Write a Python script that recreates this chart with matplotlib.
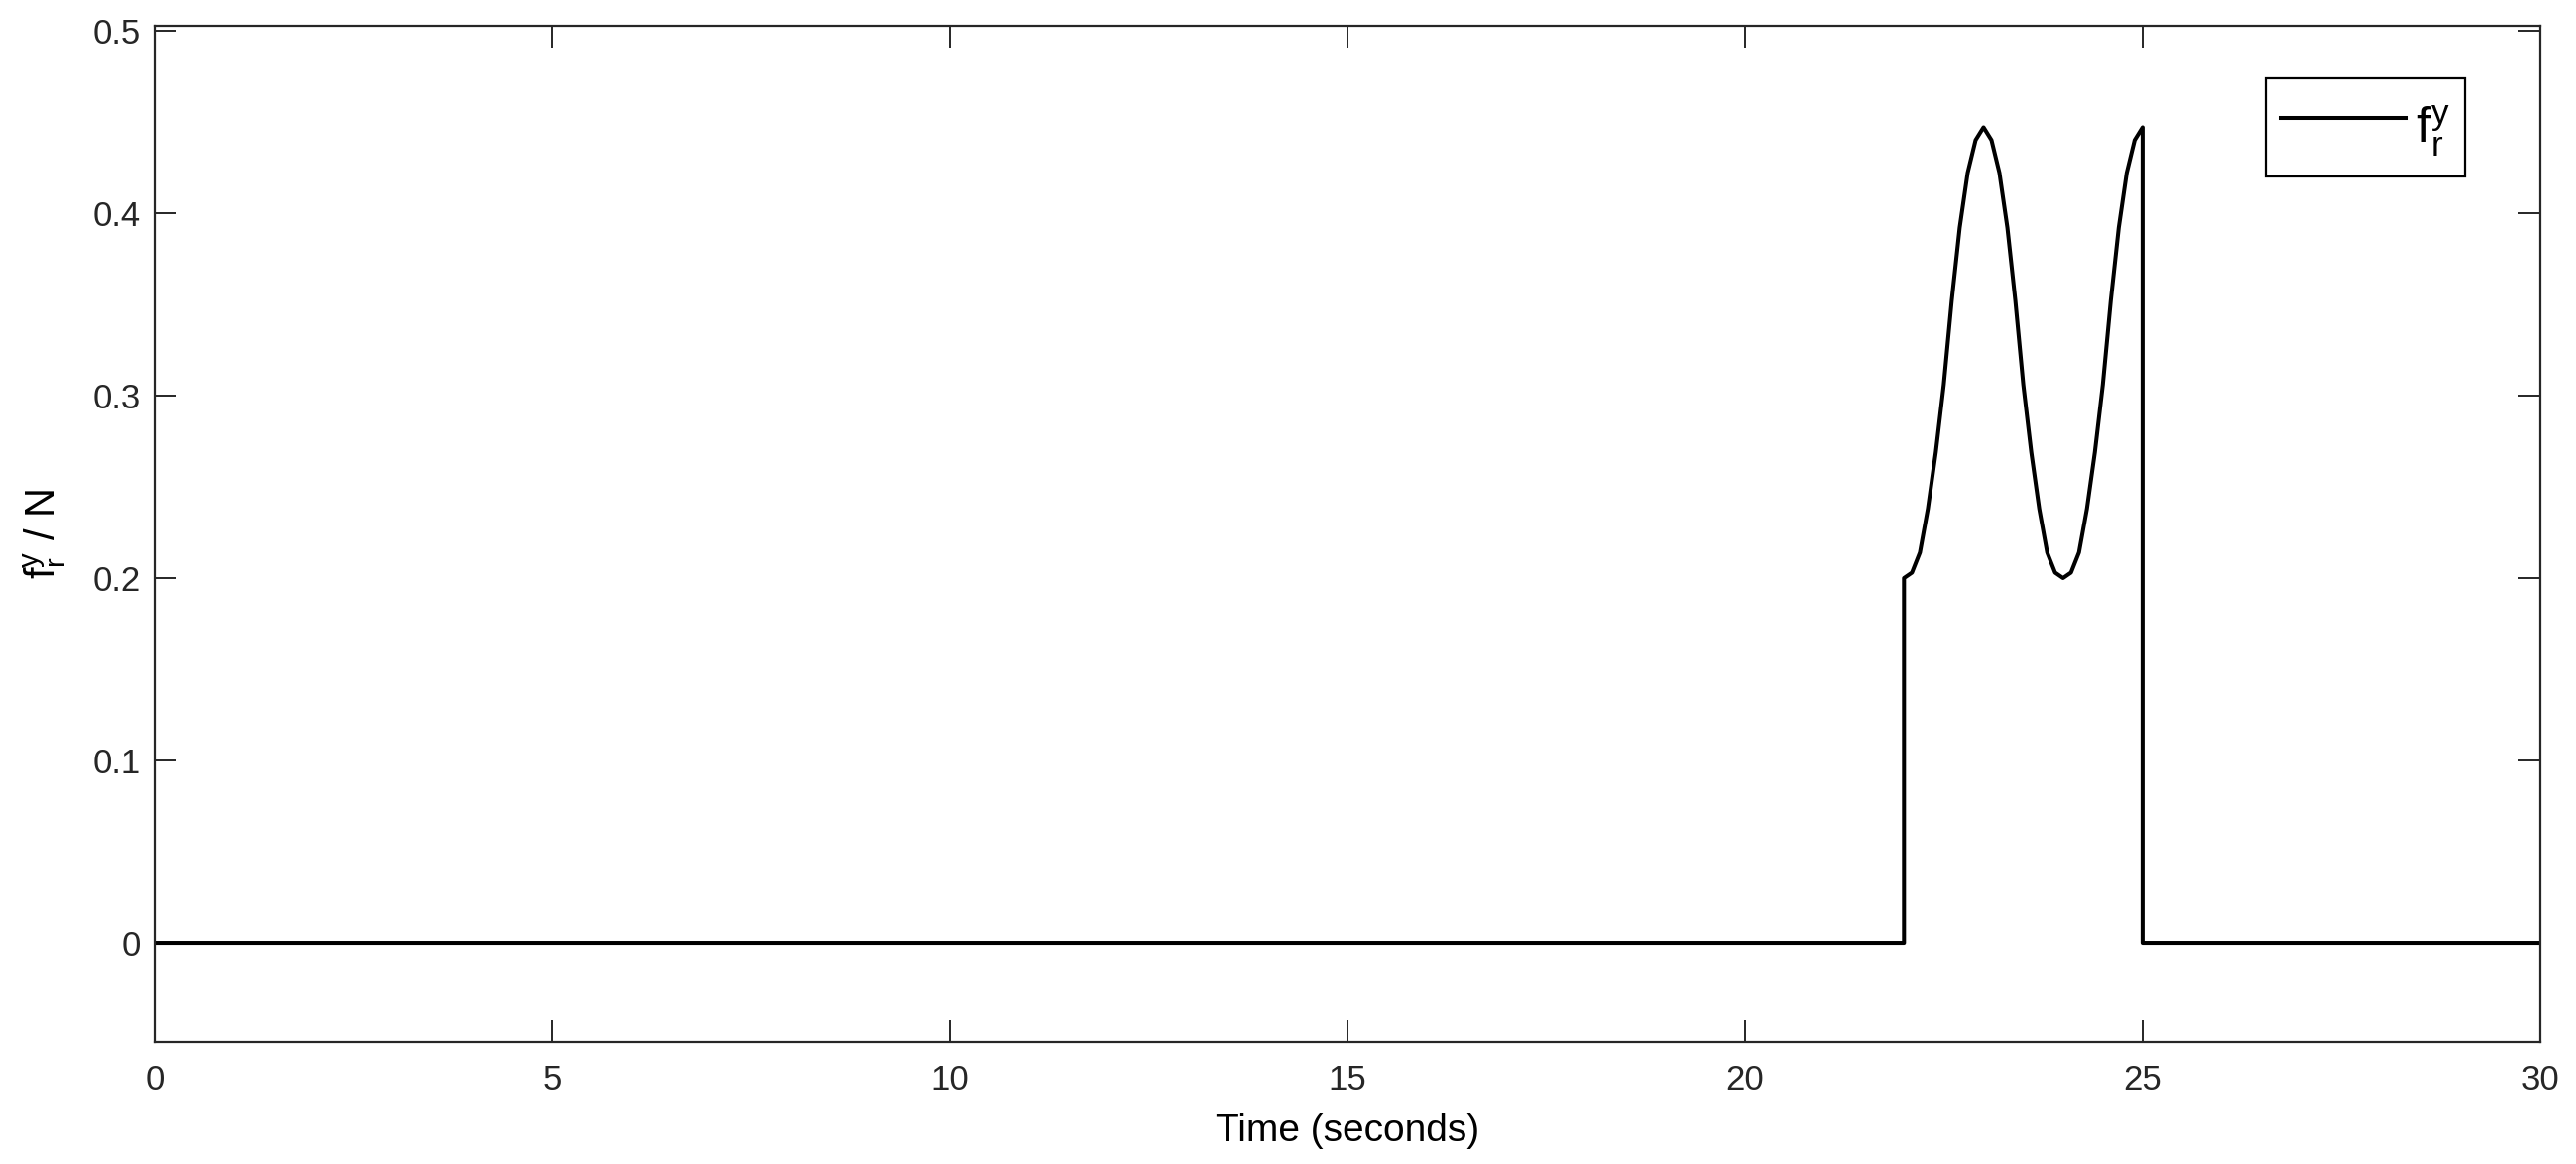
import numpy as np
import matplotlib
matplotlib.use('Agg')
import matplotlib.pyplot as plt

plt.rcParams['font.family'] = ['Liberation Sans', 'DejaVu Sans']
plt.rcParams['mathtext.fontset'] = 'custom'
plt.rcParams['mathtext.rm'] = 'Liberation Sans'

# values
time_before = [0.0, 22.0]
force_before = [0.0, 0.0]

time_pulse = [22.0, 22.1, 22.2, 22.3, 22.4, 22.5, 22.6, 22.7, 22.8, 22.9,
              23.0, 23.1, 23.2, 23.3, 23.4, 23.5, 23.6, 23.7, 23.8, 23.9,
              24.0, 24.1, 24.2, 24.3, 24.4, 24.5, 24.6, 24.7, 24.8, 24.9, 25.0]
force_pulse = [0.200, 0.203, 0.214, 0.238, 0.269, 0.306, 0.352, 0.392, 0.422, 0.440,
               0.447, 0.440, 0.422, 0.392, 0.352, 0.306, 0.269, 0.238, 0.214, 0.203,
               0.200, 0.203, 0.214, 0.238, 0.269, 0.306, 0.352, 0.392, 0.422, 0.440, 0.447]

time_after = [25.0, 30.0]
force_after = [0.0, 0.0]

x_ticks = [0, 5, 10, 15, 20, 25, 30]
y_ticks = [0, 0.1, 0.2, 0.3, 0.4, 0.5]
y_tick_labels = ['0', '0.1', '0.2', '0.3', '0.4', '0.5']

t = np.concatenate([time_before, time_pulse, time_after])
f = np.concatenate([force_before, force_pulse, force_after])

fig = plt.figure(figsize=(12.99, 5.87), dpi=200)
ax = fig.add_axes([0.060, 0.1048, 0.9261, 0.8731])

ax.plot(t, f, color='black', linewidth=1.45, solid_joinstyle='round',
        label=r'$\mathregular{f_r^y}$')

ax.set_xlim(0, 30)
ax.set_ylim(-0.0543, 0.5027)
ax.set_xticks(x_ticks)
ax.set_yticks(y_ticks)
ax.set_yticklabels(y_tick_labels)

ax.tick_params(direction='in', length=8, width=0.7, top=True, right=True,
               labelsize=12.5, labelcolor='#262626', colors='#262626', pad=5)
ax.tick_params(axis='x', pad=8)
for s in ax.spines.values():
    s.set_linewidth(0.8)
    s.set_color('#262626')

ax.set_xlabel('Time (seconds)', fontsize=14, labelpad=6)
ax.set_ylabel(r'$\mathregular{f_r^y}$ / N', fontsize=15, labelpad=9)

leg = ax.legend(loc='upper right', bbox_to_anchor=(0.9684, 0.9483), borderaxespad=0,
                fontsize=18, handlelength=2.55, handleheight=1.75, handletextpad=0.2,
                fancybox=False, framealpha=1, edgecolor='black', borderpad=0.3)
leg.get_frame().set_linewidth(0.8)

fig.savefig('out.png', dpi=200)
